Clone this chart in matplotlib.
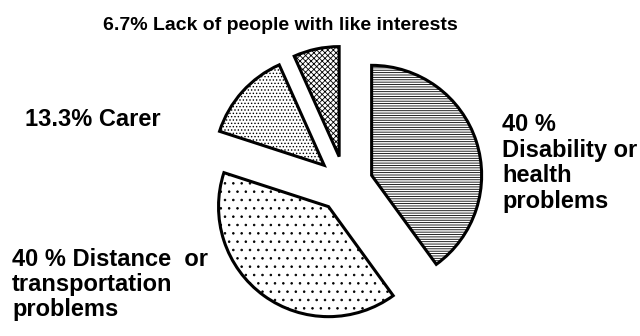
import matplotlib.pyplot as plt

plt.rcParams['font.family'] = ['Liberation Sans', 'DejaVu Sans']
plt.rcParams['hatch.linewidth'] = 0.6

# slices, clockwise from 12 o'clock
labels = ['Disability or health problems', 'Distance or transportation problems',
          'Carer', 'Lack of people with like interests']
shares = [40, 40, 13.3, 6.7]
hatches = ['-------', '..', '.....', 'xxxxxx']

W, H = 640, 336
fig = plt.figure(figsize=(W / 100, H / 100), dpi=100)
ax = fig.add_axes([0, 0, 1, 1])

wedges, _ = ax.pie(shares, startangle=90, counterclock=False,
                   center=(345, H - 184), radius=110,
                   explode=[28, 28, 28, 28],
                   colors=['white'] * 4,
                   wedgeprops=dict(edgecolor='black', linewidth=2.2))
for w, h in zip(wedges, hatches):
    w.set_hatch(h)

ax.set_xlim(0, W)
ax.set_ylim(0, H)
ax.set_aspect('auto')
ax.axis('off')

fs = 17
ax.text(280, H - 17, '6.7% Lack of people with like interests', ha='center', va='top',
        fontsize=14, fontweight='bold')
ax.text(25, H - 108, '13.3% Carer', ha='left', va='top', fontsize=fs, fontweight='bold')
ax.text(12, H - 248, '40 % Distance  or\ntransportation\nproblems', ha='left', va='top',
        fontsize=fs, fontweight='bold', linespacing=1.1)
ax.text(502, H - 113, '40 %\nDisability or\nhealth\nproblems', ha='left', va='top',
        fontsize=fs, fontweight='bold', linespacing=1.15)

fig.savefig('out.png', dpi=100)
